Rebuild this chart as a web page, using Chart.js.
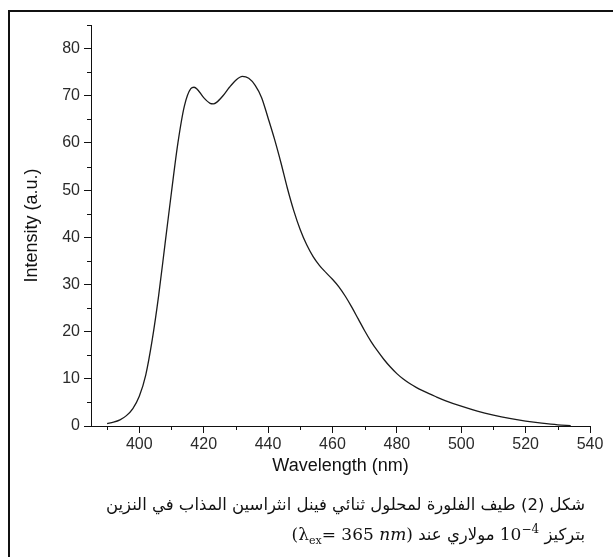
<!DOCTYPE html>
<html>
<head>
<meta charset="utf-8">
<script src="https://cdn.jsdelivr.net/npm/chart.js@4.4.1/dist/chart.umd.min.js"></script>
<style>
  body { margin: 0; background: #fff; }
  #wrap { position: relative; width: 613px; height: 557px; overflow: hidden; }
  #frame { position: absolute; left: 8px; top: 10px; right: -10px; bottom: -10px;
           border-top: 2px solid #111; border-left: 2px solid #111; pointer-events: none; }
  #caption { position: absolute; right: 28px; top: 491px; direction: rtl; text-align: right;
             font-family: "DejaVu Sans", sans-serif; font-size: 16.5px; line-height: 28px; color: #111; }
  #caption .m { font-family: "DejaVu Serif", "Liberation Serif", serif; font-size: 17px; direction: ltr; unicode-bidi: isolate; }
  #caption .l2 { margin-top: -4px; }
</style>
</head>
<body>
<div id="wrap">
  <canvas id="spektrum"></canvas>
  <div id="frame"></div>
  <div id="caption">
    <div>شكل (2) طيف الفلورة لمحلول ثنائي فينل انثراسين المذاب في النزين</div>
    <div class="l2">بتركيز <span class="m">10<sup style="font-size:12px">−4</sup></span> مولاري عند <span class="m">(λ<sub style="font-size:11px">ex</sub>= 365 <i>nm</i>)</span></div>
  </div>
</div>
<script>
// emission spectrum
const wavelength = [390, 392, 394, 396, 398, 400, 402, 404, 406, 408, 410, 412, 414, 416, 417, 418, 420,
  422, 423, 424, 426, 428, 430, 432, 434, 436, 438, 440, 442, 444, 446, 448, 450, 452, 454, 456, 458, 460,
  462, 464, 466, 468, 470, 472, 474, 476, 478, 480, 482, 484, 486, 488, 490, 492, 495, 500, 505, 510, 515,
  520, 525, 530, 534];
const intensity = [0.5, 0.8, 1.3, 2.2, 3.7, 6.3, 10.8, 18.2, 27.6, 38.6, 49.6, 60, 67.8, 71.5, 71.8, 71.4, 69.6,
  68.4, 68.3, 68.6, 70.0, 71.8, 73.3, 74.1, 73.7, 72.2, 69.6, 65.3, 60.8, 55.8, 50.4, 45.6, 41.6, 38.4,
  35.9, 34.0, 32.5, 31.1, 29.5, 27.5, 25.2, 22.7, 20.2, 17.9, 15.9, 14.1, 12.5, 11.1, 9.95, 9.0, 8.2, 7.5,
  6.85, 6.25, 5.4, 4.2, 3.15, 2.3, 1.6, 1.05, 0.6, 0.25, 0.1];

const xLabels = [400, 420, 440, 460, 480, 500, 520, 540];
const xMinor = [390, 410, 430, 450, 470, 490, 510, 530];
const yLabels = [0, 10, 20, 30, 40, 50, 60, 70, 80];
const yMinor = [5, 15, 25, 35, 45, 55, 65, 75, 85];

const points = wavelength.map((w, i) => ({ x: w, y: intensity[i] }));

// short minor tick marks
const minorTicks = {
  id: 'minorTicks',
  afterDraw(chart) {
    const c = chart.ctx, a = chart.chartArea;
    const xs = chart.scales.x, ys = chart.scales.y;
    c.save();
    c.strokeStyle = '#111';
    c.lineWidth = 1;
    c.beginPath();
    xMinor.forEach(v => {
      const px = Math.round(xs.getPixelForValue(v)) + 0.5;
      c.moveTo(px, a.bottom); c.lineTo(px, a.bottom + 4);
    });
    yMinor.forEach(v => {
      const py = Math.round(ys.getPixelForValue(v)) + 0.5;
      c.moveTo(a.left, py); c.lineTo(a.left - 4, py);
    });
    c.stroke();
    c.restore();
  }
};

const tickFont = { family: 'Liberation Sans, Arial, sans-serif', size: 16 };
const titleFont = { family: 'Liberation Sans, Arial, sans-serif', size: 18 };

new Chart(document.getElementById('spektrum'), {
  type: 'line',
  data: {
    datasets: [{
      data: points,
      borderColor: '#1a1a1a',
      borderWidth: 1.3,
      pointRadius: 0,
      cubicInterpolationMode: 'monotone',
      fill: false
    }]
  },
  options: {
    responsive: true,
    maintainAspectRatio: false,
    animation: false,
    layout: { padding: { top: 25, right: 23, left: 0, bottom: 51 } },
    plugins: { legend: { display: false }, tooltip: { enabled: false } },
    scales: {
      x: {
        type: 'linear',
        min: 385,
        max: 540,
        afterBuildTicks: s => { s.ticks = xLabels.concat(xMinor).sort((a, b) => a - b).map(v => ({ value: v })); },
        afterFit: s => { s.height = 80; },
        border: { display: true, color: '#111', width: 1 },
        grid: {
          drawOnChartArea: false,
          tickLength: 7,
          tickColor: ctx => (ctx.tick && xLabels.includes(ctx.tick.value)) ? '#111' : 'rgba(0,0,0,0)'
        },
        ticks: {
          autoSkip: false,
          maxRotation: 0,
          padding: 2,
          color: '#2a2a2a',
          font: tickFont,
          callback: v => xLabels.includes(v) ? String(v) : ''
        },
        title: {
          display: true,
          text: 'Wavelength (nm)',
          color: '#111',
          font: titleFont,
          padding: { top: 0, bottom: 29 }
        }
      },
      y: {
        min: 0,
        max: 85,
        afterBuildTicks: s => { s.ticks = yLabels.concat(yMinor).sort((a, b) => a - b).map(v => ({ value: v })); },
        afterFit: s => { s.width = 91; },
        border: { display: true, color: '#111', width: 1 },
        grid: {
          drawOnChartArea: false,
          tickLength: 7,
          tickColor: ctx => (ctx.tick && yLabels.includes(ctx.tick.value)) ? '#111' : 'rgba(0,0,0,0)'
        },
        ticks: {
          autoSkip: false,
          padding: 4,
          color: '#2a2a2a',
          font: tickFont,
          callback: v => yLabels.includes(v) ? String(v) : ''
        },
        title: {
          display: true,
          text: 'Intensity (a.u.)',
          color: '#111',
          font: titleFont,
          padding: { top: 21, bottom: 0 }
        }
      }
    }
  },
  plugins: [minorTicks]
});
</script>
</body>
</html>
